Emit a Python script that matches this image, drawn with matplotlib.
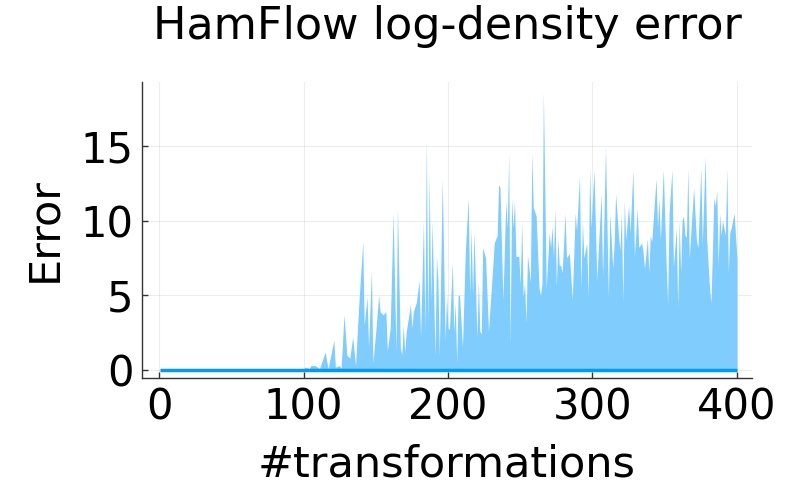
"""HamFlow log-density error: per-transformation error band around the zero line."""

import matplotlib

matplotlib.use("Agg")
import matplotlib.pyplot as plt

LINE_COLOR = "#009AFA"
FILL_COLOR = "#80CCFC"

iterations = [
    1, 100, 101, 104, 105, 108, 111, 115, 117, 121, 122, 125, 126, 128, 130, 132, 134, 136, 138,
    141, 142, 144, 145, 147, 148, 150, 152, 153, 155, 157, 158, 160, 162, 164, 165, 167, 168, 169,
    170, 171, 174, 175, 176, 178, 180, 181, 183, 184, 185, 186, 187, 188, 189, 191, 192, 193, 194,
    196, 198, 199, 200, 201, 203, 204, 205, 206, 207, 208, 210, 212, 214, 215, 216, 217, 218, 220,
    221, 222, 223, 224, 226, 228, 230, 232, 234, 235, 236, 238, 240, 241, 242, 243, 244, 245, 246,
    247, 249, 250, 251, 252, 253, 254, 255, 257, 258, 259, 261, 263, 264, 265, 266, 268, 270, 271,
    272, 273, 274, 275, 276, 277, 278, 279, 281, 282, 284, 286, 288, 289, 291, 292, 293, 294, 296,
    297, 298, 299, 301, 303, 304, 306, 307, 309, 311, 312, 314, 315, 316, 318, 319, 320, 321, 322,
    323, 325, 326, 328, 329, 331, 332, 334, 335, 336, 338, 339, 340, 341, 342, 344, 345, 346, 347,
    349, 351, 352, 353, 355, 356, 358, 359, 360, 361, 362, 363, 364, 365, 366, 367, 370, 372, 373,
    375, 376, 378, 379, 381, 382, 384, 385, 386, 387, 388, 389, 390, 392, 393, 394, 395, 396, 398,
    400,
]
error_upper = [
    0.0, 0.0, 0.2, 0.1, 0.3, 0.3, 0.1, 1.2, 0.1, 2.0, 0.2, 0.3, 0.1, 3.7, 1.0, 0.8, 2.2, 0.3, 4.0,
    8.6, 3.0, 4.9, 1.5, 6.7, 0.5, 2.6, 5.0, 3.9, 3.7, 3.9, 1.3, 2.8, 10.5, 1.3, 10.9, 1.5, 1.0, 3.0,
    1.2, 2.5, 4.4, 2.8, 3.9, 4.5, 6.0, 2.2, 10.0, 2.5, 15.5, 3.0, 13.2, 4.5, 10.0, 1.0, 7.6, 6.0, 1.0,
    12.8, 2.0, 5.0, 2.8, 2.7, 7.2, 2.5, 4.5, 0.5, 5.0, 5.0, 1.5, 8.0, 11.5, 5.0, 9.5, 5.0, 9.3, 2.2,
    5.9, 2.6, 2.4, 8.2, 7.5, 2.6, 5.5, 8.5, 9.0, 12.4, 12.2, 4.7, 11.3, 9.5, 14.5, 1.6, 11.5, 9.5, 11.3,
    7.6, 7.6, 5.7, 10.0, 4.9, 5.8, 3.2, 7.7, 5.9, 14.5, 10.9, 10.3, 5.5, 5.0, 5.7, 18.6, 5.5, 9.2, 8.2,
    9.6, 7.5, 10.8, 5.6, 8.8, 7.0, 7.0, 6.5, 10.5, 7.5, 7.8, 4.7, 10.5, 9.3, 13.0, 5.5, 10.0, 7.5, 8.5,
    4.9, 13.5, 9.5, 13.4, 6.0, 8.0, 11.8, 6.2, 14.9, 4.8, 10.5, 6.8, 8.5, 11.8, 9.0, 8.0, 10.5, 4.6, 11.3,
    8.7, 11.0, 9.2, 13.4, 7.6, 10.8, 8.2, 8.5, 7.9, 6.8, 8.8, 6.5, 9.0, 8.6, 10.0, 12.8, 9.5, 11.5, 8.7,
    13.4, 7.0, 4.5, 10.5, 13.4, 6.9, 9.5, 4.2, 10.0, 6.5, 10.0, 10.3, 9.0, 8.9, 13.5, 7.5, 12.2, 8.6, 8.2,
    13.5, 8.5, 14.3, 8.8, 5.5, 4.5, 11.5, 11.0, 12.0, 7.0, 10.5, 9.0, 10.0, 9.0, 13.5, 6.5, 9.2, 9.5, 10.5,
    7.5,
]
error_mean = [0.0] * len(iterations)

x_ticks = [0, 100, 200, 300, 400]
y_ticks = [0, 5, 10, 15]


def main() -> None:
    plt.rcParams["font.family"] = "DejaVu Sans"
    fig = plt.figure(figsize=(8, 5), dpi=100)
    ax = fig.add_axes([0.1775, 0.244, 0.7625, 0.592])

    ax.fill_between(iterations, error_mean, error_upper, color=FILL_COLOR, linewidth=0)
    ax.plot(iterations, error_mean, color=LINE_COLOR, linewidth=2.5, solid_capstyle="butt")

    ax.set_xlim(-11.8, 410.4)
    ax.set_ylim(-0.53, 19.26)
    ax.set_xticks(x_ticks)
    ax.set_yticks(y_ticks)
    ax.grid(True, color="#000000", alpha=0.07, linewidth=0.8)
    ax.set_axisbelow(True)

    for side in ["top", "right"]:
        ax.spines[side].set_visible(False)
    for side in ["left", "bottom"]:
        ax.spines[side].set_color("#333333")
        ax.spines[side].set_linewidth(1.0)
    ax.tick_params(direction="in", length=4, width=1, color="#333333", labelsize=30, pad=6)

    ax.set_xlabel("#transformations", fontsize=31, labelpad=11)
    ax.set_ylabel("Error", fontsize=31, labelpad=11)
    ax.set_title("HamFlow log-density error", fontsize=32, pad=31)

    fig.savefig("out.png", dpi=100)
    plt.close(fig)


if __name__ == "__main__":
    main()
